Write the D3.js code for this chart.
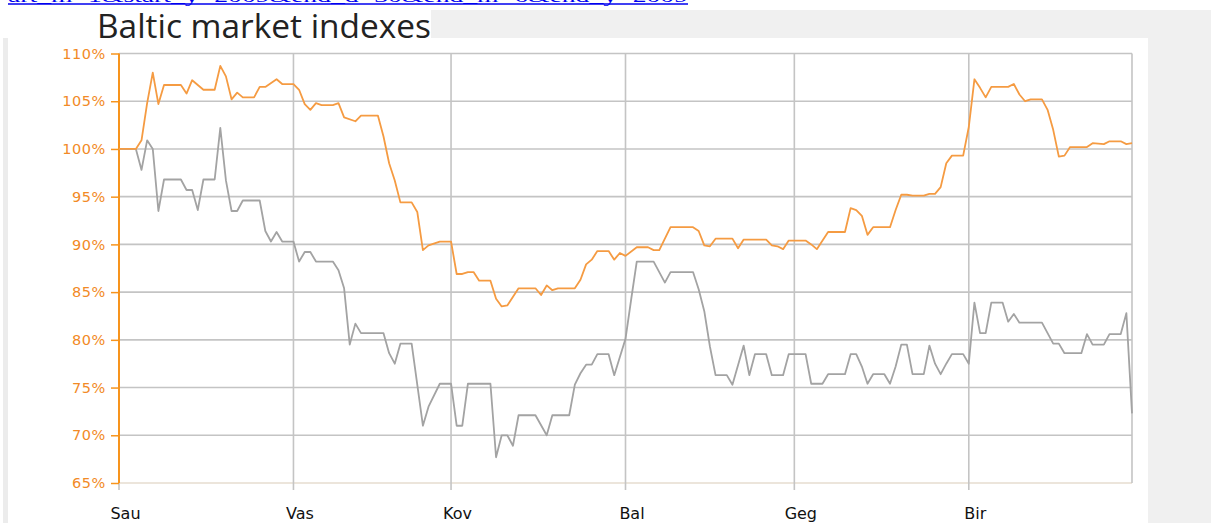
<!DOCTYPE html>
<html>
<head>
<meta charset="utf-8">
<script src="https://cdn.jsdelivr.net/npm/d3@7"></script>
<style>
  html, body { margin: 0; padding: 0; background: #ffffff; }
  svg { display: block; }
</style>
</head>
<body>
<svg id="chart" width="1211" height="523"></svg>
<script>
// ---- Data ----
const titleText = "Baltic market indexes";
const linkText = "art_m=1&start_y=2009&end_d=30&end_m=6&end_y=2009";
const monthLabels = ["Sau", "Vas", "Kov", "Bal", "Geg", "Bir"];
const yTicks = [65, 70, 75, 80, 85, 90, 95, 100, 105, 110];

// day offsets from 2009-01-01
const orangeDays = [0,3,4,5,6,7,8,11,12,13,15,17,18,19,20,21,22,24,25,26,28,29,31,32,33,34,35,36,38,39,40,42,43,46,47,48,49,50,52,53,54,55,57,59,60,61,62,63,64,66,67,68,69,71,74,75,76,77,78,81,82,83,84,85,87,88,89,90,92,94,95,96,98,102,103,104,105,106,109,110,111,115,116,117,118,119,122,123,124,126,129,130,131,132,133,134,137,138,139,140,141,143,144,145,146,147,148,150,151,152,153,154,155,158,159,160,161,162,164,165,166,167,168,169,172,173,175,176,178,179,180];
const orangeValues = [100,100,100.9,104.8,108.0,104.7,106.7,106.7,105.8,107.2,106.2,106.2,108.7,107.6,105.2,105.9,105.4,105.4,106.5,106.5,107.3,106.8,106.8,106.2,104.7,104.1,104.8,104.6,104.6,104.8,103.3,102.9,103.5,103.5,101.3,98.5,96.7,94.4,94.4,93.4,89.4,89.9,90.3,90.3,86.9,86.9,87.1,87.1,86.2,86.2,84.3,83.5,83.6,85.4,85.4,84.7,85.7,85.2,85.4,85.4,86.3,87.9,88.4,89.3,89.3,88.4,89.1,88.8,89.7,89.7,89.4,89.4,91.8,91.8,91.4,89.9,89.8,90.6,90.6,89.6,90.5,90.5,89.9,89.8,89.5,90.4,90.4,90.0,89.5,91.3,91.3,93.8,93.6,93.0,91.0,91.8,91.8,93.6,95.2,95.2,95.1,95.1,95.3,95.3,96.0,98.5,99.3,99.3,102.3,107.3,106.4,105.4,106.5,106.5,106.8,105.7,105.0,105.2,105.2,104.1,102.0,99.2,99.3,100.2,100.2,100.6,100.5,100.8,100.8,100.5,100.6];

const grayDays = [0,3,4,5,6,7,8,11,12,13,14,15,17,18,19,20,21,22,25,26,27,28,29,31,32,33,34,35,38,39,40,41,42,43,47,48,49,50,52,53,54,55,57,59,60,61,62,66,67,68,69,70,71,74,76,77,80,81,82,83,84,85,87,88,89,90,91,92,95,96,97,98,102,103,104,105,106,108,109,111,112,113,115,116,118,119,122,123,125,126,129,130,131,132,133,134,136,137,138,139,140,141,143,144,145,146,147,148,150,151,152,153,154,155,157,158,159,160,164,165,166,167,168,171,172,173,175,176,178,179,180];
const grayValues = [100,100,97.8,100.9,100.0,93.5,96.8,96.8,95.7,95.7,93.6,96.8,96.8,102.2,96.7,93.5,93.5,94.6,94.6,91.4,90.3,91.3,90.3,90.3,88.2,89.2,89.2,88.2,88.2,87.3,85.4,79.5,81.7,80.7,80.7,78.6,77.5,79.6,79.6,75.3,71.0,73.0,75.4,75.4,71.0,71.0,75.4,75.4,67.7,70.0,70.0,68.9,72.1,72.1,70.0,72.1,72.1,75.3,76.5,77.4,77.4,78.5,78.5,76.3,78.2,80.1,84.2,88.2,88.2,87.1,86.0,87.1,87.1,85.3,83.0,79.3,76.3,76.3,75.3,79.4,76.3,78.5,78.5,76.3,76.3,78.5,78.5,75.4,75.4,76.4,76.4,78.5,78.5,77.2,75.4,76.4,76.4,75.4,77.2,79.5,79.5,76.4,76.4,79.4,77.5,76.4,77.5,78.5,78.5,77.5,83.9,80.7,80.7,83.9,83.9,81.9,82.7,81.8,81.8,80.7,79.6,79.6,78.6,78.6,80.6,79.5,79.5,80.6,80.6,82.8,72.3];

// ---- Setup ----
const startDate = new Date(2009, 0, 1);
const endDate = new Date(2009, 5, 30);
const toDate = d => d3.timeDay.offset(startDate, d);

const svg = d3.select("#chart");
const W = 1211, H = 523;
const pLeft = 119, pRight = 1132, pTop = 53.5, pBottom = 483;

const x = d3.scaleTime().domain([startDate, endDate]).range([pLeft, pRight]);
const y = d3.scaleLinear().domain([65, 110]).range([pBottom, pTop]);

// page backgrounds
svg.append("rect").attr("x", 431).attr("y", 10).attr("width", W - 431).attr("height", 28).attr("fill", "#f0f0f0");
svg.append("rect").attr("x", 1148).attr("y", 38).attr("width", W - 1148).attr("height", H - 38).attr("fill", "#f0f0f0");
svg.append("rect").attr("x", 3).attr("y", 38).attr("width", 5).attr("height", H - 38).attr("fill", "#ececec");

// link text (cut at top, as in the page screenshot)
svg.append("text")
  .attr("x", 8).attr("y", 2)
  .attr("font-family", "'Liberation Serif', 'DejaVu Serif', serif")
  .attr("font-size", 17)
  .attr("fill", "#0000ee")
  .attr("textLength", 680).attr("lengthAdjust", "spacingAndGlyphs")
  .text(linkText);
svg.append("line").attr("x1", 8).attr("x2", 688).attr("y1", 4).attr("y2", 4)
  .attr("stroke", "#0000ee").attr("stroke-width", 1.5);

// title
svg.append("text")
  .attr("x", 97).attr("y", 38)
  .attr("font-family", "'Open Sans', 'Noto Sans', sans-serif")
  .attr("font-size", 33)
  .attr("fill", "#222")
  .attr("textLength", 334).attr("lengthAdjust", "spacingAndGlyphs")
  .text(titleText);

// horizontal gridlines
svg.append("g").selectAll("line")
  .data(yTicks)
  .join("line")
  .attr("x1", pLeft).attr("x2", pRight)
  .attr("y1", d => y(d)).attr("y2", d => y(d))
  .attr("stroke", d => d === 65 ? "#e6dccf" : "#c4c4c4")
  .attr("stroke-width", 1.6);

// month gridlines + x axis
const months = d3.timeMonth.range(startDate, new Date(2009, 6, 1));
svg.append("g").selectAll("line")
  .data(months.slice(1))
  .join("line")
  .attr("x1", d => x(d)).attr("x2", d => x(d))
  .attr("y1", pTop).attr("y2", pBottom + 7)
  .attr("stroke", "#c4c4c4").attr("stroke-width", 1.6);
svg.append("line")
  .attr("x1", pRight).attr("x2", pRight).attr("y1", pTop).attr("y2", pBottom)
  .attr("stroke", "#c4c4c4").attr("stroke-width", 1.6);
svg.append("line")
  .attr("x1", pLeft).attr("x2", pLeft).attr("y1", pBottom).attr("y2", pBottom + 7)
  .attr("stroke", "#c4c4c4").attr("stroke-width", 1.6);

const xAxis = svg.append("g")
  .attr("transform", `translate(0,${pBottom})`)
  .call(d3.axisBottom(x).tickValues(months).tickFormat((d, i) => monthLabels[i]).tickSize(0).tickPadding(0));
xAxis.select(".domain").remove();
xAxis.selectAll("text")
  .attr("x", 6)
  .attr("y", 36).attr("dy", 0)
  .attr("font-family", "'DejaVu Sans', Verdana, sans-serif")
  .attr("font-size", 16)
  .attr("fill", "#111");

// y axis
const yAxis = svg.append("g")
  .attr("transform", `translate(${pLeft},0)`)
  .call(d3.axisLeft(y).tickValues(yTicks).tickFormat(d => d + "%").tickSize(8).tickPadding(5));
yAxis.select(".domain")
  .attr("d", `M0,${pTop}V${pBottom}`)
  .attr("stroke", "#f7941d").attr("stroke-width", 2);
yAxis.selectAll(".tick line").attr("stroke", "#f7941d").attr("stroke-width", 1.5);
yAxis.selectAll(".tick text")
  .attr("font-family", "'DejaVu Sans', Verdana, sans-serif")
  .attr("font-size", 14.5)
  .attr("letter-spacing", 0.6)
  .attr("fill", "#f28a26");

// lines
const line = d3.line().x(d => x(toDate(d[0]))).y(d => y(d[1]));
const graySeries = grayDays.map((d, i) => [d, grayValues[i]]);
const orangeSeries = orangeDays.map((d, i) => [d, orangeValues[i]]);

svg.append("path").datum(graySeries)
  .attr("d", line).attr("fill", "none")
  .attr("stroke", "#a3a3a3").attr("stroke-width", 1.8).attr("stroke-linejoin", "round");
svg.append("path").datum(orangeSeries)
  .attr("d", line).attr("fill", "none")
  .attr("stroke", "#f59b42").attr("stroke-width", 1.8).attr("stroke-linejoin", "round");
</script>
</body>
</html>
